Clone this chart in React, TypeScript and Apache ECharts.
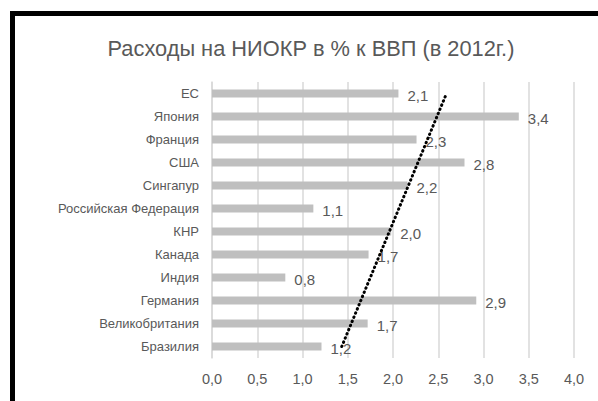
import React, { useEffect, useRef } from "react";
import * as echarts from "echarts";

const categories = [
  "Бразилия",
  "Великобритания",
  "Германия",
  "Индия",
  "Канада",
  "КНР",
  "Российская Федерация",
  "Сингапур",
  "США",
  "Франция",
  "Япония",
  "ЕС",
];
const values = [1.21, 1.72, 2.92, 0.81, 1.73, 1.98, 1.12, 2.16, 2.79, 2.26, 3.39, 2.06];
const xTicks = [0, 0.5, 1, 1.5, 2, 2.5, 3, 3.5, 4];
const title = "Расходы на НИОКР в % к ВВП (в 2012г.)";

function linearTrend(ys: number[]): number[] {
  const n = ys.length;
  const xs = ys.map((_, i) => i + 1);
  const mx = xs.reduce((a, b) => a + b, 0) / n;
  const my = ys.reduce((a, b) => a + b, 0) / n;
  let sxy = 0;
  let sxx = 0;
  for (let i = 0; i < n; i++) {
    sxy += (xs[i] - mx) * (ys[i] - my);
    sxx += (xs[i] - mx) * (xs[i] - mx);
  }
  const b = sxy / sxx;
  const a = my - b * mx;
  return xs.map((x) => a + b * x);
}

const fmt = (v: number) => v.toFixed(1).replace(".", ",");

export default function App() {
  const ref = useRef<HTMLDivElement>(null);
  useEffect(() => {
    if (!ref.current) return;
    const chart = echarts.init(ref.current, undefined, { renderer: "svg" });
    const font = "'Liberation Sans', Arial, sans-serif";
    chart.setOption({
      animation: false,
      backgroundColor: "#ffffff",
      textStyle: { fontFamily: font },
      title: {
        text: title,
        left: 311,
        textAlign: "center",
        top: 37,
        padding: 0,
        textStyle: {
          fontFamily: font,
          fontSize: 21.8,
          fontWeight: "normal",
          color: "#595959",
        },
      },
      grid: { left: 212, right: 24, top: 82, bottom: 43, containLabel: false },
      xAxis: {
        type: "value",
        min: xTicks[0],
        max: xTicks[xTicks.length - 1],
        interval: 0.5,
        axisLine: { show: false },
        axisTick: { show: false },
        splitLine: { lineStyle: { color: "#d9d9d9", width: 1.5 } },
        axisLabel: {
          color: "#595959",
          fontSize: 14.5,
          fontFamily: font,
          margin: 13,
          formatter: (v: number) => fmt(v),
        },
      },
      yAxis: {
        type: "category",
        data: categories,
        axisLine: { show: true, lineStyle: { color: "#d9d9d9", width: 1.5 } },
        axisTick: { show: false },
        axisLabel: { color: "#595959", fontSize: 13, fontFamily: font, margin: 13 },
      },
      series: [
        {
          type: "bar",
          data: values,
          barWidth: 8,
          itemStyle: { color: "#bfbfbf" },
          label: {
            show: true,
            position: "right",
            distance: 9,
            offset: [0, 2],
            color: "#595959",
            fontSize: 15,
            fontFamily: font,
            formatter: (p: any) => fmt(p.value),
          },
          z: 2,
        },
        {
          type: "line",
          data: linearTrend(values),
          symbol: "none",
          silent: true,
          lineStyle: { color: "#000000", width: 3, type: [0.5, 4], cap: "round" },
          z: 5,
        },
      ],
      graphic: [
        { type: "rect", shape: { x: 10, y: 11, width: 5, height: 390 }, style: { fill: "#000" } },
        { type: "rect", shape: { x: 10, y: 11, width: 588, height: 5 }, style: { fill: "#000" } },
      ],
    });
    return () => chart.dispose();
  }, []);
  return (
    <div
      ref={ref}
      style={{ position: "absolute", left: 0, top: 0, width: 598, height: 401 }}
    />
  );
}
